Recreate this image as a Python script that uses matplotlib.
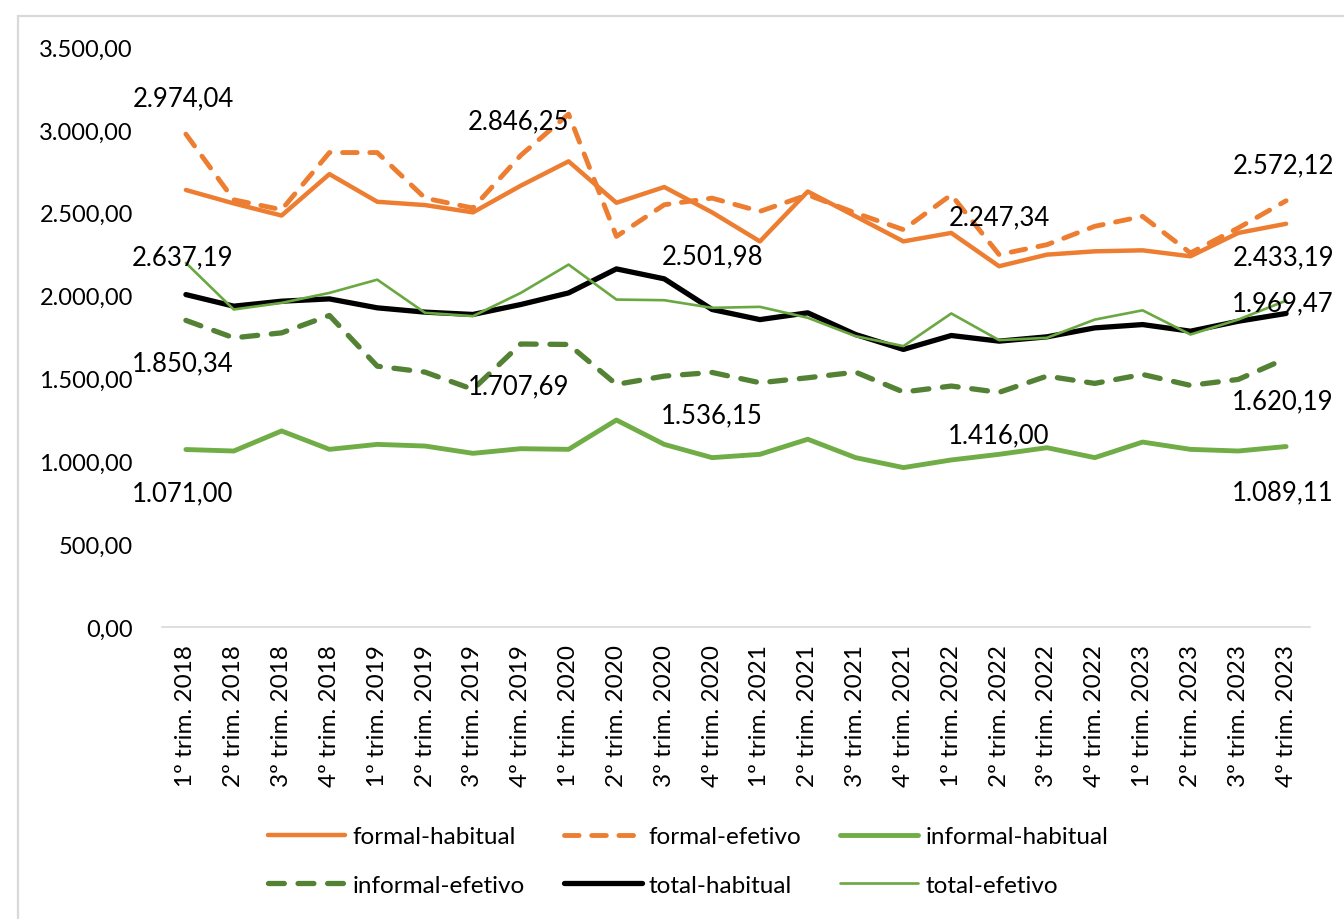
import matplotlib
matplotlib.use("Agg")
import matplotlib.pyplot as plt
from matplotlib.patches import Rectangle
from matplotlib.ticker import FuncFormatter, MultipleLocator

plt.rcParams['font.family'] = ['Lato', 'DejaVu Sans']

# quarters
quarters = ['%dº trim. %d' % (q, y) for y in range(2018, 2024) for q in range(1, 5)]

formal_habitual = [2637.19, 2556, 2483, 2733, 2566, 2546, 2502, 2663, 2810, 2560, 2655, 2501.98,
                   2327, 2628, 2478, 2327, 2378, 2177, 2247, 2267, 2273, 2237, 2378, 2433.19]
formal_efetivo = [2974.04, 2578, 2518, 2863, 2863, 2588, 2528, 2846.25, 3095, 2357, 2548, 2588,
                  2508, 2608, 2498, 2398, 2608, 2247.34, 2307, 2418, 2478, 2257, 2408, 2572.12]
informal_habitual = [1071.00, 1062, 1183, 1072, 1102, 1092, 1048, 1076, 1072, 1249, 1102, 1022,
                     1042, 1133, 1022, 962, 1008, 1042, 1082, 1022, 1116, 1072, 1062, 1089.11]
informal_efetivo = [1850.34, 1745, 1775, 1880, 1574, 1538, 1434, 1707.69, 1705, 1464, 1514, 1536.15,
                    1474, 1504, 1538, 1418, 1454, 1416.00, 1514, 1470, 1524, 1458, 1494, 1620.19]
total_habitual = [2006, 1936, 1966, 1980, 1926, 1900, 1886, 1946, 2016, 2161, 2101, 1916,
                  1855, 1896, 1765, 1675, 1759, 1725, 1751, 1805, 1825, 1785, 1845, 1892]
total_efetivo = [2197, 1916, 1956, 2016, 2096, 1896, 1876, 2016, 2187, 1976, 1972, 1926,
                 1932, 1866, 1755, 1695, 1892, 1731, 1745, 1855, 1911, 1765, 1855, 1969.47]


def br(v):
    s = '{:,.2f}'.format(v)
    return s.replace(',', '#').replace('.', ',').replace('#', '.')


fig = plt.figure(figsize=(13.44, 9.2), dpi=100)
ax = fig.add_axes([162 / 1344, 1 - 628 / 920, (1310 - 162) / 1344, (628 - 48) / 920])

x = list(range(len(quarters)))
ORANGE = '#ED7D31'
GREEN = '#70AD47'
DKGREEN = '#548235'

l_fh, = ax.plot(x, formal_habitual, color=ORANGE, lw=3.2, solid_capstyle='round', label='formal-habitual')
l_fe, = ax.plot(x, formal_efetivo, color=ORANGE, lw=3.5, dashes=(3, 2.6), dash_capstyle='round',
                label='formal-efetivo')
l_ih, = ax.plot(x, informal_habitual, color=GREEN, lw=3.5, solid_capstyle='round', label='informal-habitual')
l_ie, = ax.plot(x, informal_efetivo, color=DKGREEN, lw=3.8, dashes=(3, 2.6), dash_capstyle='round',
                label='informal-efetivo')
l_th, = ax.plot(x, total_habitual, color='black', lw=3.8, solid_capstyle='round', label='total-habitual')
l_te, = ax.plot(x, total_efetivo, color='#6AA842', lw=1.9, solid_capstyle='round', label='total-efetivo')

# data labels: (series, index, dx px, dy px)
labels = [
    (formal_efetivo, 0, -3, 36), (formal_habitual, 0, -3, -67), (informal_efetivo, 0, -3, -42),
    (informal_habitual, 0, -3, -43),
    (formal_efetivo, 7, -2, 35), (informal_efetivo, 7, -2, -42),
    (formal_habitual, 11, 0, -43), (informal_efetivo, 11, 0, -42),
    (formal_efetivo, 17, 0, 38), (informal_efetivo, 17, 0, -42),
    (formal_efetivo, 23, -3, 36), (formal_habitual, 23, -3, -33), (total_efetivo, 23, -3, -2),
    (informal_efetivo, 23, -3, -42), (informal_habitual, 23, -3, -45),
]
for s, i, dx, dy in labels:
    ax.annotate(br(s[i]), xy=(i, s[i]), xytext=(dx, dy), textcoords='offset pixels',
                ha='center', va='center', fontsize=18.5, color='black', annotation_clip=False)

ax.set_xlim(-0.5, len(quarters) - 0.5)
ax.set_ylim(0, 3500)
ax.yaxis.set_major_locator(MultipleLocator(500))
ax.yaxis.set_major_formatter(FuncFormatter(lambda v, p: br(v)))
ax.set_xticks(x)
ax.set_xticklabels(quarters, rotation=90, fontsize=17.5)
ax.tick_params(axis='y', length=0, pad=21, labelsize=17)
ax.tick_params(axis='x', length=0, pad=12)
for sp in ['top', 'right', 'left']:
    ax.spines[sp].set_visible(False)
ax.spines['bottom'].set_color('#D9D9D9')
ax.spines['bottom'].set_linewidth(1.2)

handles = [l_fh, l_ie, l_fe, l_th, l_ih, l_te]
fig.legend(handles, [h.get_label() for h in handles], ncol=3, loc='center',
           bbox_to_anchor=(688 / 1344, 1 - 862 / 920), frameon=False, fontsize=17.5,
           handlelength=3.2, handletextpad=0.3, columnspacing=1.6, labelspacing=1.15)

fig.patches.append(Rectangle((18 / 1344, -0.1), 2, 1.1 - 16.5 / 920, transform=fig.transFigure,
                             fill=False, edgecolor='#D9D9D9', lw=1.6))

fig.savefig('out.png', dpi=100)
